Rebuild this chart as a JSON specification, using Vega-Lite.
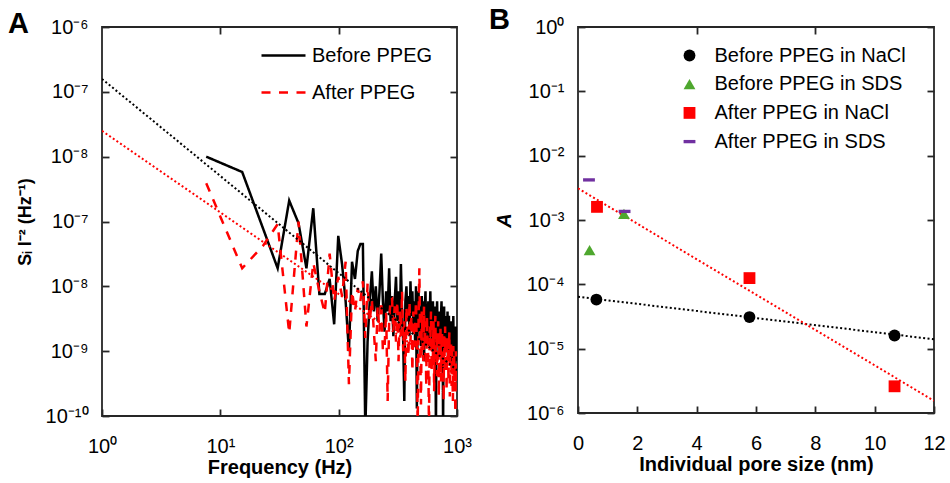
{
  "$schema": "https://vega.github.io/schema/vega-lite/v6.json",
  "background": "white",
  "padding": {"left": 7, "top": 5, "right": 0, "bottom": 0},
  "spacing": 15,
  "resolve": {"scale": {"color": "independent", "shape": "independent", "strokeDash": "independent", "x": "independent", "y": "independent"}, "legend": {"color": "independent", "shape": "independent", "strokeDash": "independent"}},
  "config": {
    "font": "Liberation Sans",
    "view": {"stroke": "#262626", "strokeWidth": 1.8},
    "axis": {"grid": false, "domain": false, "ticks": true, "tickSize": -7, "tickWidth": 1.8, "tickColor": "#262626", "labelFontSize": 20, "labelColor": "black", "labelFlush": false, "labelPadding": 21, "labelFont": "Liberation Sans", "titleFontSize": 20, "titleFontWeight": "bold", "titleColor": "black", "titleFont": "Liberation Sans"},
    "axisX": {"labelPadding": 27, "titlePadding": 1},
    "legend": {"labelFontSize": 20, "labelColor": "black", "labelFont": "Liberation Sans", "labelLimit": 400}
  },
  "datasets": {
    "psd": [
      {"f":7.6,"s":1.0e-6,"g":"Before PPEG"},{"f":15.3,"s":5.8e-7,"g":"Before PPEG"},{"f":22.9,"s":7.9e-8,"g":"Before PPEG"},{"f":30.5,"s":1.9e-8,"g":"Before PPEG"},{"f":38.2,"s":2.1e-7,"g":"Before PPEG"},{"f":45.8,"s":9.4e-8,"g":"Before PPEG"},{"f":53.4,"s":1.9e-8,"g":"Before PPEG"},{"f":61.0,"s":1.6e-7,"g":"Before PPEG"},{"f":68.7,"s":7.6e-9,"g":"Before PPEG"},{"f":76.3,"s":7.6e-9,"g":"Before PPEG"},
      {"f":83.9,"s":1.3e-8,"g":"Before PPEG"},{"f":91.6,"s":2.6e-9,"g":"Before PPEG"},{"f":99.2,"s":6.0e-8,"g":"Before PPEG"},{"f":106.8,"s":2.2e-8,"g":"Before PPEG"},{"f":114.5,"s":5.9e-9,"g":"Before PPEG"},{"f":122.1,"s":1.0e-9,"g":"Before PPEG"},{"f":129.7,"s":2.4e-8,"g":"Before PPEG"},{"f":137.3,"s":1.3e-8,"g":"Before PPEG"},{"f":145.0,"s":3.5e-8,"g":"Before PPEG"},{"f":152.6,"s":4.5e-8,"g":"Before PPEG"},
      {"f":160.2,"s":4.5e-8,"g":"Before PPEG"},{"f":167.9,"s":6e-11,"g":"Before PPEG"},{"f":175.5,"s":1.4e-9,"g":"Before PPEG"},{"f":183.1,"s":5.9e-9,"g":"Before PPEG"},{"f":190.8,"s":1.7e-8,"g":"Before PPEG"},{"f":198.4,"s":4.1e-9,"g":"Before PPEG"},{"f":206.0,"s":1.0e-8,"g":"Before PPEG"},{"f":213.6,"s":2.9e-9,"g":"Before PPEG"},{"f":221.3,"s":8.4e-9,"g":"Before PPEG"},{"f":228.9,"s":3.2e-8,"g":"Before PPEG"},
      {"f":236.5,"s":5.9e-9,"g":"Before PPEG"},{"f":244.2,"s":2.0e-9,"g":"Before PPEG"},{"f":251.8,"s":8.4e-9,"g":"Before PPEG"},{"f":259.4,"s":4.1e-9,"g":"Before PPEG"},{"f":267.1,"s":1.9e-8,"g":"Before PPEG"},{"f":274.7,"s":2.9e-9,"g":"Before PPEG"},{"f":282.3,"s":7.1e-9,"g":"Before PPEG"},{"f":289.9,"s":1.7e-9,"g":"Before PPEG"},{"f":297.6,"s":5.9e-9,"g":"Before PPEG"},{"f":305.2,"s":1.4e-8,"g":"Before PPEG"},
      {"f":312.8,"s":2.9e-9,"g":"Before PPEG"},{"f":320.5,"s":8.4e-9,"g":"Before PPEG"},{"f":328.1,"s":2.0e-9,"g":"Before PPEG"},{"f":335.7,"s":2.2e-8,"g":"Before PPEG"},{"f":343.4,"s":4.1e-9,"g":"Before PPEG"},{"f":351.0,"s":1.4e-9,"g":"Before PPEG"},{"f":358.6,"s":1.7e-10,"g":"Before PPEG"},{"f":366.2,"s":5.9e-9,"g":"Before PPEG"},{"f":373.9,"s":1.0e-8,"g":"Before PPEG"},{"f":381.5,"s":2.9e-9,"g":"Before PPEG"},
      {"f":389.1,"s":7.1e-9,"g":"Before PPEG"},{"f":396.8,"s":1.7e-9,"g":"Before PPEG"},{"f":404.4,"s":1.2e-8,"g":"Before PPEG"},{"f":412.0,"s":3.5e-9,"g":"Before PPEG"},{"f":419.7,"s":8.4e-9,"g":"Before PPEG"},{"f":427.3,"s":2.4e-9,"g":"Before PPEG"},{"f":434.9,"s":5.9e-9,"g":"Before PPEG"},{"f":442.5,"s":1.4e-9,"g":"Before PPEG"},{"f":450.2,"s":1.0e-8,"g":"Before PPEG"},{"f":457.8,"s":1.3e-10,"g":"Before PPEG"},
      {"f":465.4,"s":4.1e-9,"g":"Before PPEG"},{"f":473.1,"s":8.4e-9,"g":"Before PPEG"},{"f":480.7,"s":2.0e-9,"g":"Before PPEG"},{"f":488.3,"s":4.9e-9,"g":"Before PPEG"},{"f":496.0,"s":1.2e-9,"g":"Before PPEG"},{"f":503.6,"s":7.1e-9,"g":"Before PPEG"},{"f":511.2,"s":2.9e-9,"g":"Before PPEG"},{"f":518.8,"s":5.9e-9,"g":"Before PPEG"},{"f":526.5,"s":7.0e-10,"g":"Before PPEG"},{"f":534.1,"s":4.1e-9,"g":"Before PPEG"},
      {"f":541.7,"s":8.4e-9,"g":"Before PPEG"},{"f":549.4,"s":1.7e-9,"g":"Before PPEG"},{"f":557.0,"s":4.9e-9,"g":"Before PPEG"},{"f":564.6,"s":2.4e-9,"g":"Before PPEG"},{"f":572.3,"s":5.9e-9,"g":"Before PPEG"},{"f":579.9,"s":1.2e-9,"g":"Before PPEG"},{"f":587.5,"s":3.5e-9,"g":"Before PPEG"},{"f":595.1,"s":8.4e-9,"g":"Before PPEG"},{"f":602.8,"s":2.0e-9,"g":"Before PPEG"},{"f":610.4,"s":4.1e-9,"g":"Before PPEG"},
      {"f":618.0,"s":1.0e-9,"g":"Before PPEG"},{"f":625.7,"s":5.9e-9,"g":"Before PPEG"},{"f":633.3,"s":2.4e-9,"g":"Before PPEG"},{"f":640.9,"s":1.4e-9,"g":"Before PPEG"},{"f":648.6,"s":4.9e-9,"g":"Before PPEG"},{"f":656.2,"s":2.0e-9,"g":"Before PPEG"},{"f":663.8,"s":6e-11,"g":"Before PPEG"},{"f":671.4,"s":2.9e-9,"g":"Before PPEG"},{"f":679.1,"s":5.9e-9,"g":"Before PPEG"},{"f":686.7,"s":1.7e-9,"g":"Before PPEG"},
      {"f":694.3,"s":3.5e-9,"g":"Before PPEG"},{"f":702.0,"s":1.2e-9,"g":"Before PPEG"},{"f":709.6,"s":4.1e-9,"g":"Before PPEG"},{"f":717.2,"s":2.0e-9,"g":"Before PPEG"},{"f":724.9,"s":8.4e-10,"g":"Before PPEG"},{"f":732.5,"s":3.5e-9,"g":"Before PPEG"},{"f":740.1,"s":5.9e-9,"g":"Before PPEG"},{"f":747.7,"s":1.4e-9,"g":"Before PPEG"},{"f":755.4,"s":2.4e-9,"g":"Before PPEG"},{"f":763.0,"s":6e-11,"g":"Before PPEG"},
      {"f":770.6,"s":2.9e-9,"g":"Before PPEG"},{"f":778.3,"s":4.9e-9,"g":"Before PPEG"},{"f":785.9,"s":1.2e-9,"g":"Before PPEG"},{"f":793.5,"s":2.0e-9,"g":"Before PPEG"},{"f":801.2,"s":3.5e-9,"g":"Before PPEG"},{"f":808.8,"s":1.0e-9,"g":"Before PPEG"},{"f":816.4,"s":2.9e-9,"g":"Before PPEG"},{"f":824.0,"s":1.4e-9,"g":"Before PPEG"},{"f":831.7,"s":4.1e-9,"g":"Before PPEG"},{"f":839.3,"s":8.4e-10,"g":"Before PPEG"},
      {"f":846.9,"s":2.0e-9,"g":"Before PPEG"},{"f":854.6,"s":3.5e-9,"g":"Before PPEG"},{"f":862.2,"s":1.2e-9,"g":"Before PPEG"},{"f":869.8,"s":2.4e-9,"g":"Before PPEG"},{"f":877.5,"s":7.0e-10,"g":"Before PPEG"},{"f":885.1,"s":2.9e-9,"g":"Before PPEG"},{"f":892.7,"s":1.4e-9,"g":"Before PPEG"},{"f":900.3,"s":2.0e-9,"g":"Before PPEG"},{"f":908.0,"s":5.9e-10,"g":"Before PPEG"},{"f":915.6,"s":2.4e-9,"g":"Before PPEG"},
      {"f":923.2,"s":1.2e-9,"g":"Before PPEG"},{"f":930.9,"s":3.5e-9,"g":"Before PPEG"},{"f":938.5,"s":8.4e-10,"g":"Before PPEG"},{"f":946.1,"s":1.7e-9,"g":"Before PPEG"},{"f":953.8,"s":4.9e-10,"g":"Before PPEG"},{"f":961.4,"s":2.0e-9,"g":"Before PPEG"},{"f":969.0,"s":1.2e-9,"g":"Before PPEG"},{"f":976.6,"s":2.4e-9,"g":"Before PPEG"},{"f":984.3,"s":7.0e-10,"g":"Before PPEG"},{"f":991.9,"s":1.4e-9,"g":"Before PPEG"},
      {"f":999.5,"s":1.0e-9,"g":"Before PPEG"},
      {"f":7.6,"s":3.9e-7,"g":"After PPEG"},{"f":15.3,"s":1.9e-8,"g":"After PPEG"},{"f":22.9,"s":4.2e-8,"g":"After PPEG"},{"f":30.5,"s":9.1e-8,"g":"After PPEG"},{"f":38.2,"s":1.9e-9,"g":"After PPEG"},{"f":45.8,"s":1.0e-7,"g":"After PPEG"},{"f":53.4,"s":2.4e-9,"g":"After PPEG"},{"f":61.0,"s":2.3e-8,"g":"After PPEG"},{"f":68.7,"s":8.4e-9,"g":"After PPEG"},{"f":76.3,"s":3.9e-9,"g":"After PPEG"},
      {"f":83.9,"s":3.2e-8,"g":"After PPEG"},{"f":91.6,"s":5.9e-9,"g":"After PPEG"},{"f":99.2,"s":1.4e-8,"g":"After PPEG"},{"f":106.8,"s":7.1e-9,"g":"After PPEG"},{"f":114.5,"s":2.4e-8,"g":"After PPEG"},{"f":122.1,"s":3.1e-10,"g":"After PPEG"},{"f":129.7,"s":8.4e-9,"g":"After PPEG"},{"f":137.3,"s":4.1e-9,"g":"After PPEG"},{"f":145.0,"s":9.4e-9,"g":"After PPEG"},{"f":152.6,"s":5.9e-9,"g":"After PPEG"},
      {"f":160.2,"s":1.2e-8,"g":"After PPEG"},{"f":167.9,"s":1.6e-9,"g":"After PPEG"},{"f":175.5,"s":1.1e-8,"g":"After PPEG"},{"f":183.1,"s":2.9e-9,"g":"After PPEG"},{"f":190.8,"s":6.3e-9,"g":"After PPEG"},{"f":198.4,"s":2.0e-9,"g":"After PPEG"},{"f":206.0,"s":7.0e-10,"g":"After PPEG"},{"f":213.6,"s":4.9e-9,"g":"After PPEG"},{"f":221.3,"s":2.0e-9,"g":"After PPEG"},{"f":228.9,"s":5.9e-9,"g":"After PPEG"},
      {"f":236.5,"s":1.0e-9,"g":"After PPEG"},{"f":244.2,"s":1.1e-9,"g":"After PPEG"},{"f":251.8,"s":4.1e-9,"g":"After PPEG"},{"f":259.4,"s":1.7e-10,"g":"After PPEG"},{"f":267.1,"s":2.9e-9,"g":"After PPEG"},{"f":274.7,"s":6.6e-9,"g":"After PPEG"},{"f":282.3,"s":6.6e-9,"g":"After PPEG"},{"f":289.9,"s":2.0e-9,"g":"After PPEG"},{"f":297.6,"s":4.9e-9,"g":"After PPEG"},{"f":305.2,"s":1.4e-9,"g":"After PPEG"},
      {"f":312.8,"s":5.9e-9,"g":"After PPEG"},{"f":320.5,"s":7.0e-10,"g":"After PPEG"},{"f":328.1,"s":4.1e-9,"g":"After PPEG"},{"f":335.7,"s":1.7e-9,"g":"After PPEG"},{"f":343.4,"s":8.4e-9,"g":"After PPEG"},{"f":351.0,"s":1.0e-9,"g":"After PPEG"},{"f":358.6,"s":2.9e-9,"g":"After PPEG"},{"f":366.2,"s":3.4e-10,"g":"After PPEG"},{"f":373.9,"s":4.9e-9,"g":"After PPEG"},{"f":381.5,"s":2.0e-9,"g":"After PPEG"},
      {"f":389.1,"s":8.4e-10,"g":"After PPEG"},{"f":396.8,"s":5.9e-9,"g":"After PPEG"},{"f":404.4,"s":1.4e-9,"g":"After PPEG"},{"f":412.0,"s":3.5e-9,"g":"After PPEG"},{"f":419.7,"s":4.9e-10,"g":"After PPEG"},{"f":427.3,"s":4.1e-9,"g":"After PPEG"},{"f":434.9,"s":1.2e-9,"g":"After PPEG"},{"f":442.5,"s":2.4e-9,"g":"After PPEG"},{"f":450.2,"s":5.9e-9,"g":"After PPEG"},{"f":457.8,"s":1.0e-9,"g":"After PPEG"},
      {"f":465.4,"s":6e-11,"g":"After PPEG"},{"f":473.1,"s":2.9e-9,"g":"After PPEG"},{"f":480.7,"s":1.9e-8,"g":"After PPEG"},{"f":488.3,"s":1.4e-9,"g":"After PPEG"},{"f":496.0,"s":1.5e-10,"g":"After PPEG"},{"f":503.6,"s":4.1e-9,"g":"After PPEG"},{"f":511.2,"s":1.7e-9,"g":"After PPEG"},{"f":518.8,"s":7.0e-10,"g":"After PPEG"},{"f":526.5,"s":4.9e-9,"g":"After PPEG"},{"f":534.1,"s":1.2e-9,"g":"After PPEG"},
      {"f":541.7,"s":2.9e-9,"g":"After PPEG"},{"f":549.4,"s":2.9e-10,"g":"After PPEG"},{"f":557.0,"s":3.5e-9,"g":"After PPEG"},{"f":564.6,"s":1.4e-9,"g":"After PPEG"},{"f":572.3,"s":7.0e-10,"g":"After PPEG"},{"f":579.9,"s":6e-11,"g":"After PPEG"},{"f":587.5,"s":2.4e-9,"g":"After PPEG"},{"f":595.1,"s":1.2e-9,"g":"After PPEG"},{"f":602.8,"s":4.1e-9,"g":"After PPEG"},{"f":610.4,"s":4.9e-10,"g":"After PPEG"},
      {"f":618.0,"s":1.7e-9,"g":"After PPEG"},{"f":625.7,"s":8.4e-10,"g":"After PPEG"},{"f":633.3,"s":2.9e-9,"g":"After PPEG"},{"f":640.9,"s":2.4e-10,"g":"After PPEG"},{"f":648.6,"s":1.4e-9,"g":"After PPEG"},{"f":656.2,"s":3.5e-9,"g":"After PPEG"},{"f":663.8,"s":7.0e-10,"g":"After PPEG"},{"f":671.4,"s":2.0e-9,"g":"After PPEG"},{"f":679.1,"s":4.1e-10,"g":"After PPEG"},{"f":686.7,"s":1.2e-9,"g":"After PPEG"},
      {"f":694.3,"s":2.9e-9,"g":"After PPEG"},{"f":702.0,"s":2.0e-10,"g":"After PPEG"},{"f":709.6,"s":1.7e-9,"g":"After PPEG"},{"f":717.2,"s":8.4e-10,"g":"After PPEG"},{"f":724.9,"s":2.4e-9,"g":"After PPEG"},{"f":732.5,"s":3.4e-10,"g":"After PPEG"},{"f":740.1,"s":1.2e-9,"g":"After PPEG"},{"f":747.7,"s":2.0e-9,"g":"After PPEG"},{"f":755.4,"s":5.9e-10,"g":"After PPEG"},{"f":763.0,"s":1.4e-9,"g":"After PPEG"},
      {"f":770.6,"s":1.7e-10,"g":"After PPEG"},{"f":778.3,"s":1.7e-9,"g":"After PPEG"},{"f":785.9,"s":8.4e-10,"g":"After PPEG"},{"f":793.5,"s":2.4e-9,"g":"After PPEG"},{"f":801.2,"s":4.9e-10,"g":"After PPEG"},{"f":808.8,"s":1.2e-9,"g":"After PPEG"},{"f":816.4,"s":2.4e-10,"g":"After PPEG"},{"f":824.0,"s":1.7e-9,"g":"After PPEG"},{"f":831.7,"s":7.0e-10,"g":"After PPEG"},{"f":839.3,"s":1.4e-9,"g":"After PPEG"},
      {"f":846.9,"s":3.4e-10,"g":"After PPEG"},{"f":854.6,"s":1.0e-9,"g":"After PPEG"},{"f":862.2,"s":2.0e-9,"g":"After PPEG"},{"f":869.8,"s":2.0e-10,"g":"After PPEG"},{"f":877.5,"s":1.2e-9,"g":"After PPEG"},{"f":885.1,"s":5.9e-10,"g":"After PPEG"},{"f":892.7,"s":1.4e-9,"g":"After PPEG"},{"f":900.3,"s":2.9e-10,"g":"After PPEG"},{"f":908.0,"s":1.0e-9,"g":"After PPEG"},{"f":915.6,"s":4.9e-10,"g":"After PPEG"},
      {"f":923.2,"s":1.7e-10,"g":"After PPEG"},{"f":930.9,"s":1.2e-9,"g":"After PPEG"},{"f":938.5,"s":4.1e-10,"g":"After PPEG"},{"f":946.1,"s":8.4e-10,"g":"After PPEG"},{"f":953.8,"s":2.4e-10,"g":"After PPEG"},{"f":961.4,"s":7.0e-10,"g":"After PPEG"},{"f":969.0,"s":6e-11,"g":"After PPEG"},{"f":976.6,"s":1.0e-9,"g":"After PPEG"},{"f":984.3,"s":3.4e-10,"g":"After PPEG"},{"f":991.9,"s":5.9e-10,"g":"After PPEG"},
      {"f":999.5,"s":4.4e-10,"g":"After PPEG"}
    ],
    "fitA": [
      {"f":1,"s":1.58e-5,"g":"Before"},{"f":1000,"s":5.1e-10,"g":"Before"},
      {"f":1,"s":2.5e-6,"g":"After"},{"f":1000,"s":4.2e-10,"g":"After"}
    ],
    "pts": [
      {"x":0.62,"a":5.8e-5,"g":"Before PPEG in NaCl"},
      {"x":5.78,"a":3.1e-5,"g":"Before PPEG in NaCl"},
      {"x":10.67,"a":1.6e-5,"g":"Before PPEG in NaCl"},
      {"x":0.39,"a":3.4e-4,"g":"Before PPEG in SDS"},
      {"x":1.55,"a":1.24e-3,"g":"Before PPEG in SDS"},
      {"x":0.64,"a":1.6e-3,"g":"After PPEG in NaCl"},
      {"x":5.78,"a":1.25e-4,"g":"After PPEG in NaCl"},
      {"x":10.67,"a":2.6e-6,"g":"After PPEG in NaCl"},
      {"x":0.37,"a":4.2e-3,"g":"After PPEG in SDS"},
      {"x":1.57,"a":1.36e-3,"g":"After PPEG in SDS"}
    ],
    "fitB": [
      {"x":0,"a":6.4e-5,"g":"Before"},{"x":12,"a":1.4e-5,"g":"Before"},
      {"x":0,"a":3.1e-3,"g":"After"},{"x":12,"a":1.55e-6,"g":"After"}
    ]
  },
  "hconcat": [
    {
      "width": 355,
      "height": 389,
      "title": {"text": "A", "anchor": "start", "frame": "group", "dx": -94, "offset": -45, "baseline": "alphabetic", "fontSize": 29, "fontWeight": "bold", "color": "black", "font": "Liberation Sans"},
      "layer": [
        {
          "layer": [
            {
              "data": {"name": "psd"},
              "transform": [{"filter": "datum.g == 'Before PPEG'"}],
              "mark": {"type": "line", "strokeWidth": 2.5, "clip": true},
              "encoding": {
                "x": {"field": "f", "type": "quantitative", "scale": {"type": "log", "domain": [1, 1000], "nice": false},
                      "axis": {"values": [1, 10, 100, 1000], "labelExpr": "datum.value < 5 ? '10⁰' : datum.value < 50 ? '10¹' : datum.value < 500 ? '10²' : '10³'", "title": "Frequency (Hz)"}},
                "y": {"field": "s", "type": "quantitative", "scale": {"type": "log", "domain": [1e-10, 1e-4], "nice": false},
                      "axis": {"values": [1e-10, 1e-9, 1e-8, 1e-7, 1e-6, 1e-5, 1e-4], "labelExpr": "datum.value > 5e-5 ? '10⁻⁶' : datum.value > 5e-6 ? '10⁻⁷' : datum.value > 5e-7 ? '10⁻⁸' : datum.value > 5e-8 ? '10⁻⁷' : datum.value > 5e-9 ? '10⁻⁸' : datum.value > 5e-10 ? '10⁻⁹' : '10⁻¹⁰'", "title": "Sᵢ I⁻² (Hz⁻¹)", "titleFontSize": 18, "titlePadding": 11}},
                "color": {"field": "g", "type": "nominal", "scale": {"domain": ["Before PPEG", "After PPEG"], "range": ["black", "#ff0000"]},
                          "legend": {"title": null, "orient": "none", "legendX": 170, "legendY": 17, "padding": 0, "symbolType": "M-2.2,0L2.2,0", "symbolSize": 400, "symbolStrokeWidth": 2.5, "labelOffset": 17, "rowPadding": 15, "labelFontSize": 20}},
                "strokeDash": {"field": "g", "type": "nominal", "scale": {"domain": ["Before PPEG", "After PPEG"], "range": [[1, 0], [9, 8.5]]},
                          "legend": {"title": null, "orient": "none", "legendX": 170, "legendY": 17, "padding": 0, "symbolType": "M-2.2,0L2.2,0", "symbolSize": 400, "symbolStrokeWidth": 2.5, "labelOffset": 17, "rowPadding": 15, "labelFontSize": 20}}
              }
            },
            {
              "data": {"name": "psd"},
              "transform": [{"filter": "datum.g == 'After PPEG'"}],
              "mark": {"type": "line", "strokeWidth": 2.5, "clip": true},
              "encoding": {
                "x": {"field": "f", "type": "quantitative", "scale": {"type": "log", "domain": [1, 1000], "nice": false}},
                "y": {"field": "s", "type": "quantitative", "scale": {"type": "log", "domain": [1e-10, 1e-4], "nice": false}},
                "color": {"field": "g", "type": "nominal", "scale": {"domain": ["Before PPEG", "After PPEG"], "range": ["black", "#ff0000"]}},
                "strokeDash": {"field": "g", "type": "nominal", "scale": {"domain": ["Before PPEG", "After PPEG"], "range": [[1, 0], [9, 8.5]]}}
              }
            },
            {
              "data": {"name": "fitA"},
              "transform": [{"filter": "datum.g == 'Before'"}],
              "mark": {"type": "line", "color": "black", "strokeDash": [2, 2.4], "strokeWidth": 2, "clip": true},
              "encoding": {
                "x": {"field": "f", "type": "quantitative", "scale": {"type": "log", "domain": [1, 1000], "nice": false}},
                "y": {"field": "s", "type": "quantitative", "scale": {"type": "log", "domain": [1e-10, 1e-4], "nice": false}}
              }
            }
          ]
        },
        {
          "data": {"name": "fitA"},
          "transform": [{"filter": "datum.g == 'After'"}],
          "mark": {"type": "line", "color": "#ff0000", "strokeDash": [2, 2.4], "strokeWidth": 2, "clip": true},
          "encoding": {
            "x": {"field": "f", "type": "quantitative", "scale": {"type": "log", "domain": [1, 1000], "nice": false},
                  "axis": {"orient": "top", "values": [10, 100], "labels": false, "title": null}},
            "y": {"field": "s", "type": "quantitative", "scale": {"type": "log", "domain": [1e-10, 1e-4], "nice": false},
                  "axis": {"orient": "right", "values": [1e-10, 1e-9, 1e-8, 1e-7, 1e-6, 1e-5, 1e-4], "labels": false, "title": null}}
          }
        }
      ],
      "resolve": {"axis": {"x": "independent", "y": "independent"}}
    },
    {
      "width": 356,
      "height": 386,
      "title": {"text": "B", "anchor": "start", "frame": "group", "dx": -89, "offset": -41, "baseline": "alphabetic", "fontSize": 29, "fontWeight": "bold", "color": "black", "font": "Liberation Sans"},
      "layer": [
        {
          "layer": [
            {
              "data": {"name": "fitB"},
              "transform": [{"filter": "datum.g == 'Before'"}],
              "mark": {"type": "line", "color": "black", "strokeDash": [2, 2.4], "strokeWidth": 2, "clip": true},
              "encoding": {
                "x": {"field": "x", "type": "quantitative", "scale": {"domain": [0, 12], "nice": false},
                      "axis": {"values": [0, 2, 4, 6, 8, 10, 12], "format": "d", "title": "Individual pore size (nm)"}},
                "y": {"field": "a", "type": "quantitative", "scale": {"type": "log", "domain": [1e-6, 1], "nice": false},
                      "axis": {"values": [1e-6, 1e-5, 1e-4, 1e-3, 1e-2, 1e-1, 1], "labelExpr": "datum.value > 0.5 ? '10⁰' : datum.value > 0.05 ? '10⁻¹' : datum.value > 0.005 ? '10⁻²' : datum.value > 5e-4 ? '10⁻³' : datum.value > 5e-5 ? '10⁻⁴' : datum.value > 5e-6 ? '10⁻⁵' : '10⁻⁶'", "title": "A", "titleFontStyle": "italic", "titleFontSize": 20, "titlePadding": 12}}
              }
            },
            {
              "data": {"name": "fitB"},
              "transform": [{"filter": "datum.g == 'After'"}],
              "mark": {"type": "line", "color": "#ff0000", "strokeDash": [2, 2.4], "strokeWidth": 2, "clip": true},
              "encoding": {
                "x": {"field": "x", "type": "quantitative", "scale": {"domain": [0, 12], "nice": false}},
                "y": {"field": "a", "type": "quantitative", "scale": {"type": "log", "domain": [1e-6, 1], "nice": false}}
              }
            }
          ]
        },
        {
          "data": {"name": "pts"},
          "mark": {"type": "point", "filled": true, "opacity": 1, "size": 140},
          "encoding": {
            "x": {"field": "x", "type": "quantitative", "scale": {"domain": [0, 12], "nice": false},
                  "axis": {"orient": "top", "values": [4, 8], "labels": false, "title": null}},
            "y": {"field": "a", "type": "quantitative", "scale": {"type": "log", "domain": [1e-6, 1], "nice": false},
                  "axis": {"orient": "right", "values": [1e-6, 1e-5, 1e-4, 1e-3, 1e-2, 1e-1, 1], "labels": false, "title": null}},
            "color": {"field": "g", "type": "nominal", "scale": {"domain": ["Before PPEG in NaCl", "Before PPEG in SDS", "After PPEG in NaCl", "After PPEG in SDS"], "range": ["black", "#4ea72e", "#ff0000", "#7030a0"]},
                      "legend": {"title": null, "orient": "none", "legendX": 101.5, "legendY": 18.5, "padding": 0, "symbolSize": 140, "rowPadding": 8.7, "labelOffset": 15, "labelFontSize": 20, "symbolOpacity": 1}},
            "shape": {"field": "g", "type": "nominal", "scale": {"domain": ["Before PPEG in NaCl", "Before PPEG in SDS", "After PPEG in NaCl", "After PPEG in SDS"], "range": ["circle", "triangle-up", "square", "M-1,-0.28L1,-0.28L1,0.28L-1,0.28Z"]},
                      "legend": {"title": null, "orient": "none", "legendX": 101.5, "legendY": 18.5, "padding": 0, "symbolSize": 140, "rowPadding": 8.7, "labelOffset": 15, "labelFontSize": 20, "symbolOpacity": 1}}
          }
        }
      ],
      "resolve": {"axis": {"x": "independent", "y": "independent"}}
    }
  ]
}
